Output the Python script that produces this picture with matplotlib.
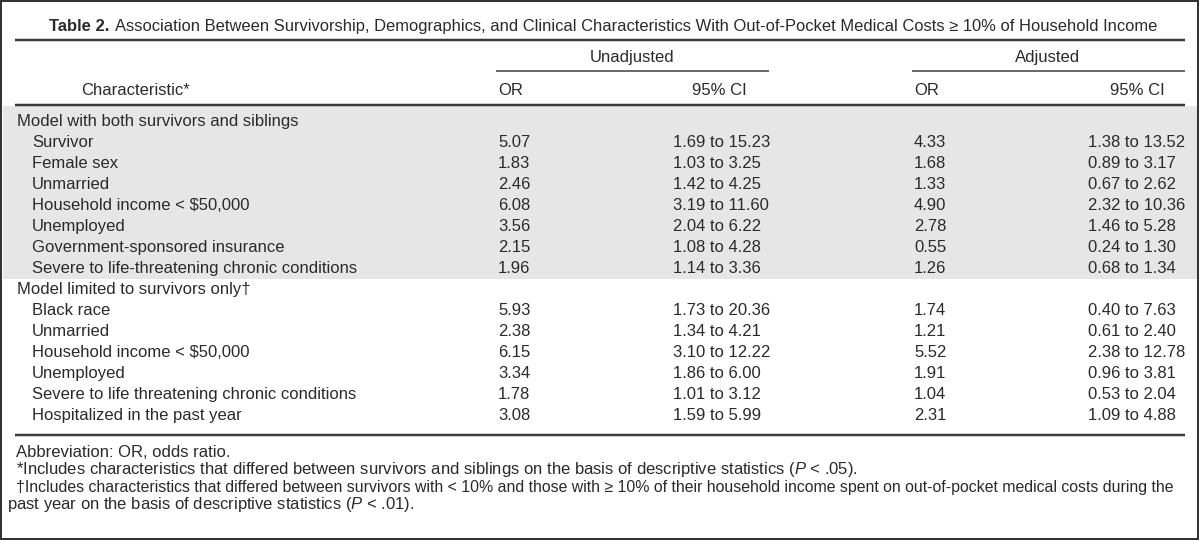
import matplotlib
matplotlib.use("Agg")
import matplotlib.pyplot as plt
from matplotlib.patches import Rectangle

# ---------------- data ----------------
title_bold = "Table 2."
title_rest = ("Association Between Survivorship, Demographics, and Clinical Characteristics "
              "With Out-of-Pocket Medical Costs \u2265 10% of Household Income")
span_headers = ["Unadjusted", "Adjusted"]
col_headers = ["Characteristic*", "OR", "95% CI", "OR", "95% CI"]

g1_label = "Model with both survivors and siblings"
g1_chars = ["Survivor", "Female sex", "Unmarried", "Household income < $50,000",
            "Unemployed", "Government-sponsored insurance",
            "Severe to life-threatening chronic conditions"]
g1_or_unadj = ["5.07", "1.83", "2.46", "6.08", "3.56", "2.15", "1.96"]
g1_ci_unadj = ["1.69 to 15.23", "1.03 to 3.25", "1.42 to 4.25", "3.19 to 11.60",
               "2.04 to 6.22", "1.08 to 4.28", "1.14 to 3.36"]
g1_or_adj = ["4.33", "1.68", "1.33", "4.90", "2.78", "0.55", "1.26"]
g1_ci_adj = ["1.38 to 13.52", "0.89 to 3.17", "0.67 to 2.62", "2.32 to 10.36",
             "1.46 to 5.28", "0.24 to 1.30", "0.68 to 1.34"]

g2_label = "Model limited to survivors only\u2020"
g2_chars = ["Black race", "Unmarried", "Household income < $50,000", "Unemployed",
            "Severe to life threatening chronic conditions", "Hospitalized in the past year"]
g2_or_unadj = ["5.93", "2.38", "6.15", "3.34", "1.78", "3.08"]
g2_ci_unadj = ["1.73 to 20.36", "1.34 to 4.21", "3.10 to 12.22", "1.86 to 6.00",
               "1.01 to 3.12", "1.59 to 5.99"]
g2_or_adj = ["1.74", "1.21", "5.52", "1.91", "1.04", "2.31"]
g2_ci_adj = ["0.40 to 7.63", "0.61 to 2.40", "2.38 to 12.78", "0.96 to 3.81",
             "0.53 to 2.04", "1.09 to 4.88"]

footnotes = [
    "Abbreviation: OR, odds ratio.",
    "*Includes characteristics that differed between survivors and siblings on the basis of descriptive statistics ($P$ < .05).",
    "\u2020Includes characteristics that differed between survivors with < 10% and those with \u2265 10% of their household income spent on out-of-pocket medical costs during the",
    "past year on the basis of descriptive statistics ($P$ < .01).",
]

# ---------------- style ----------------
FONT = "Liberation Sans"
plt.rcParams["font.family"] = [FONT, "DejaVu Sans"]
plt.rcParams["mathtext.fontset"] = "custom"
plt.rcParams["mathtext.it"] = FONT + ":italic"
plt.rcParams["mathtext.rm"] = FONT
TXT = "#2a2a2a"
LINE = "#3a3a3a"
SHADE = "#e6e6e6"

W, H = 1200, 541
fig = plt.figure(figsize=(W / 100, H / 100), dpi=100)
ax = fig.add_axes([0, 0, 1, 1])
ax.set_xlim(0, W)
ax.set_ylim(H, 0)
ax.axis("off")
fig.canvas.draw()
renderer = fig.canvas.get_renderer()


def px_width(t):
    bb = t.get_window_extent(renderer=renderer)
    return bb.width


def fit_size(s, target, **kw):
    t = ax.text(0, 0, s, fontsize=10, **kw)
    w = px_width(t)
    t.remove()
    return 10 * target / w


body = fit_size(g1_label, 280)
fs_foot = body


def txt(x, y, s, ha="left", fs=None, **kw):
    return ax.text(x, y + 5, s, ha=ha, va="baseline", fontsize=fs or body, color=TXT, **kw)


def hline(x0, x1, y, lw_px):
    ax.plot([x0, x1], [y, y], color=LINE, lw=lw_px * 0.72, solid_capstyle="butt")


# frame
ax.add_patch(Rectangle((1, 1), W - 3, H - 3, fill=False, ec="#333333", lw=2.0 * 0.72))

# shaded block for model 1
ax.add_patch(Rectangle((3, 106), W - 6, 173, fc=SHADE, ec="none", zorder=0))

# title
tsize = body
tb = txt(49, 26, title_bold, fs=tsize, fontweight="bold",
         family=["Liberation Sans Narrow", FONT, "DejaVu Sans"])
wb = px_width(tb)
rest_fs = fit_size(title_rest, 1153 - (49 + wb + 6))
txt(49 + wb + 6, 26, title_rest, fs=rest_fs)

# rules
hline(15, 1185, 40, 2.5)
hline(496, 769, 70.5, 1.5)
hline(912, 1185, 70.5, 1.5)
hline(15, 1185, 105, 2.5)
hline(15, 1185, 435, 2.5)

# headers
txt(632, 57, span_headers[0], ha="center")
txt(1048, 57, span_headers[1], ha="center")
txt(135, 90, col_headers[0], ha="center")
txt(498, 90, col_headers[1])
txt(719, 90, col_headers[2], ha="center")
txt(914, 90, col_headers[3])
txt(1137, 90, col_headers[4], ha="center")

# rows
y0, step = 121, 21.0
X_LABEL, X_SUB, X_OR1, X_CI1, X_OR2, X_CI2 = 17, 32, 498, 673, 914, 1088
row = 0
for label, chars, o1, c1, o2, c2 in [
    (g1_label, g1_chars, g1_or_unadj, g1_ci_unadj, g1_or_adj, g1_ci_adj),
    (g2_label, g2_chars, g2_or_unadj, g2_ci_unadj, g2_or_adj, g2_ci_adj),
]:
    txt(X_LABEL, y0 + row * step, label)
    row += 1
    for i in range(len(chars)):
        y = y0 + row * step
        txt(X_SUB, y, chars[i])
        txt(X_OR1, y, o1[i])
        txt(X_CI1, y, c1[i])
        txt(X_OR2, y, o2[i])
        txt(X_CI2, y, c2[i])
        row += 1

# footnotes
foot_y = [452, 469, 487, 504]
foot_x = [16, 16, 16, 7]
for s, x, y in zip(footnotes, foot_x, foot_y):
    if s.startswith("\u2020"):
        fs = min(body, fit_size(s, 1182 - x))
    else:
        fs = fs_foot
    txt(x, y, s, fs=fs)

fig.savefig("out.png", dpi=100)
